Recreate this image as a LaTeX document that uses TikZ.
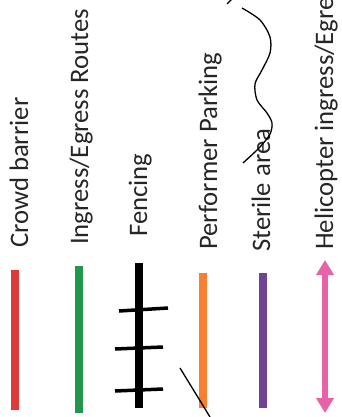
\documentclass[tikz,border=0pt]{standalone}
\usepackage{fontspec}
\setmainfont{Carlito}
\usepackage{xcolor}
\usepackage{tikz}
\usetikzlibrary{arrows.meta}
\definecolor{barred}{RGB}{222,58,58}
\definecolor{bargreen}{RGB}{34,150,78}
\definecolor{barorange}{RGB}{246,128,48}
\definecolor{barpurple}{RGB}{112,66,150}
\definecolor{barpink}{RGB}{232,98,168}
\definecolor{inkgrey}{RGB}{38,38,38}

\begin{document}
\begin{tikzpicture}[x=1pt, y=-1pt, every node/.style={font=\fontsize{26.7}{32}\selectfont, text=inkgrey},
  lbl/.style={rotate=90, anchor=base west, inner sep=0pt},
  swatch/.style={line width=8.5pt}]
  \useasboundingbox (0,0) rectangle (341,417);
  \clip (0,0) rectangle (341,417);
  % labels, read bottom to top
  \node[lbl] (crowd) at (28,248) {Crowd barrier};
  \node[lbl] (routes) at (88,245) {Ingress/Egress Routes};
  \node[lbl] (fence) at (147,237) {Fencing};
  \node[lbl] (parking) at (217,250) {Performer Parking};
  \node[lbl] (sterile) at (270,252) {Sterile area};
  \node[lbl] (heli) at (333,250) {Helicopter ingress/Egress};
  % legend swatches
  \draw[swatch,barred] (15,270) -- (15,410);
  \draw[swatch,bargreen] (79,266) -- (79,413);
  \draw[swatch,black] (139,263) -- (139,408);
  \draw[line width=3.5pt] (119,311) -- (168,308);
  \draw[line width=3.5pt] (115,349) -- (163,347);
  \draw[line width=3.5pt] (115,391) -- (163,389);
  \draw[swatch,barorange] (203,273) -- (203,408);
  \draw[swatch,barpurple] (263,273) -- (263,408);
  \draw[line width=6pt,barpink,{Triangle[width=17pt,length=15pt]}-{Triangle[width=17pt,length=15pt]}] (325,260) -- (325,413);
  % pen marks on the scan
  \draw[line width=1.3pt] plot[smooth] coordinates {(242,8) (260,20) (270,37) (270,53) (262,70) (255,84) (257,100) (267,113) (272,123) (270,134) (260,147) (243,163)};
  \draw[line width=1.3pt] (227,4) -- (232,-1);
  \draw[line width=1.3pt] (180,368) -- (210,417);
\end{tikzpicture}
\end{document}
